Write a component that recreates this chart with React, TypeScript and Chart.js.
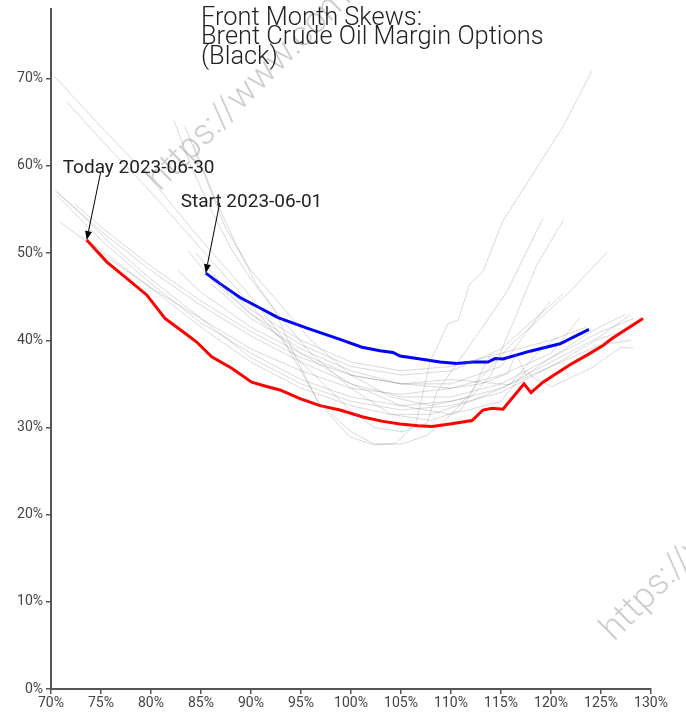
import React, { useEffect, useRef } from 'react';
import { Chart, registerables } from 'chart.js';

Chart.register(...registerables);

// ---------- data ----------
const titleLines = ['Front Month Skews:', 'Brent Crude Oil Margin Options', '(Black)'];
const xTickValues = [70, 75, 80, 85, 90, 95, 100, 105, 110, 115, 120, 125, 130];
const yTickValues = [0, 10, 20, 30, 40, 50, 60, 70];

const todayLabel = 'Today 2023-06-30';
const todayStrikes = [73.57, 75.57, 77.57, 79.57, 81.4, 83.4, 84.57, 86.07, 88.07, 90.07, 91.57, 92.9, 94.9, 96.9, 98.9, 101.2, 103.2, 104.9, 106.7, 108.1, 109.9, 112.1, 113.2, 114.1, 115.2, 117.3, 118.0, 119.2, 121.9, 123.6, 125.2, 126.1, 129.2];
const todayVols = [51.5, 49.0, 47.1, 45.2, 42.5, 40.8, 39.8, 38.1, 36.8, 35.2, 34.7, 34.3, 33.3, 32.5, 32.0, 31.2, 30.7, 30.4, 30.2, 30.1, 30.4, 30.8, 32.0, 32.2, 32.1, 35.0, 34.0, 35.2, 37.2, 38.3, 39.4, 40.2, 42.5];

const startLabel = 'Start 2023-06-01';
const startStrikes = [85.47, 86.9, 88.9, 90.9, 92.7, 95.6, 98.9, 101.1, 102.9, 104.2, 104.9, 106.6, 108.9, 110.6, 112.2, 113.7, 114.4, 115.2, 117.9, 120.9, 123.8];
const startVols = [47.7, 46.5, 44.9, 43.7, 42.6, 41.4, 40.1, 39.2, 38.8, 38.6, 38.2, 37.9, 37.5, 37.35, 37.5, 37.5, 37.9, 37.85, 38.75, 39.6, 41.25];

// intermediate days' skews: [strike %, vol %]
const historyCurves: number[][][] = [
  [[70.4, 70.2], [75, 64.5], [80, 58.5], [85, 51.5], [90, 45], [93, 40.5], [96.7, 33], [100, 29.5], [102.3, 28.1], [104.5, 28.2], [106.5, 30.5], [107.9, 37.5], [109.7, 41.9], [110.7, 42.3], [111.9, 46.5], [113.2, 47.9], [115.2, 53.7], [121.2, 64.5], [124.1, 70.9]],
  [[71.7, 67.2], [75, 63], [80, 57], [85, 50.5], [90, 44], [95, 37.5], [99.9, 32], [102.3, 30], [105.1, 29.5], [107.6, 30.5], [108.6, 34.1], [112.6, 40.6], [115.6, 45.6], [119.2, 54]],
  [[82.3, 65.2], [84, 60], [86, 55], [88, 50.5], [90, 47], [93, 42.5], [96, 38.5], [100, 34.5], [104, 31.5], [108, 30.8], [111, 32], [112.9, 35.6], [116, 39.5], [118.9, 42.5], [121.9, 45.6], [125.6, 50.1]],
  [[83.4, 64.5], [85, 60], [87.4, 53], [90, 48], [93, 44], [96, 40], [100, 36], [104, 33.5], [108, 32.5], [112, 33.5], [114, 36], [116.2, 42], [118.6, 48.7], [121.3, 53.9]],
  [[70.6, 57], [75, 52.5], [80, 48], [85, 44], [90, 40.5], [95, 37.5], [100, 35], [105, 33.5], [110, 33.5], [115, 35], [120, 38], [125, 41], [128.3, 42.5]],
  [[70.6, 56.6], [75, 51.5], [80, 46.5], [85, 42], [90, 38.5], [95, 35.5], [100, 33.5], [105, 32.5], [110, 33], [115, 34.5], [120, 37.5], [125, 40.5], [127.9, 42.9]],
  [[70.9, 53.6], [75, 50], [80, 46], [85, 42.5], [90, 39], [95, 36.5], [100, 34.5], [105, 33.8], [110, 34.5], [115, 36], [120, 38.5], [122.9, 42.6]],
  [[72.4, 55.6], [75, 53], [80, 48.5], [85, 44.5], [90, 41], [95, 38], [100, 36], [105, 35], [110, 35.5], [115.9, 34.9], [118.6, 38.5], [120.7, 40.4]],
  [[82.7, 48], [85, 45.5], [90, 41.5], [95, 38.5], [100, 36], [105, 35], [110, 35], [115, 37], [119.9, 44.5]],
  [[83.7, 50.3], [86, 47], [90, 43], [95, 39.5], [100, 37], [105, 36], [110, 36.5], [115, 39], [121.2, 45.3]],
  [[85.5, 48], [90, 43], [95, 38.5], [100, 35], [105, 32.5], [110, 31.5], [115, 33], [117.5, 36.5], [118.5, 35.5], [120.1, 34.7], [124, 36.8], [127, 39.2], [128.2, 39.1]],
  [[86, 46.5], [90, 42.5], [95, 39], [100, 36.5], [105, 35], [110, 34.5], [113, 35], [115.7, 36.2], [116.5, 38.5], [117.5, 36], [120, 38], [124, 41], [127.5, 43]],
  [[70.3, 57.3], [73, 54.5], [76, 51], [80, 47], [85, 42.5], [90, 38], [95, 35], [100, 33], [105, 32], [110, 32.5], [115, 34], [120, 37], [124.5, 40], [127, 41]],
  [[84.5, 50], [87, 46.5], [90, 43.5], [95, 40], [100, 37.5], [105, 36.5], [110, 37], [115, 38.5], [120, 40], [123.5, 41.5]],
  [[73, 52], [76, 49.5], [80, 46], [85, 41.5], [90, 37.5], [95, 34.5], [100, 32.5], [104, 31.5], [108, 31.5], [112, 33], [116, 35], [120, 37], [125, 39.5], [128, 40]],
  [[84.2, 62.5], [86.5, 56], [88.5, 51], [90.5, 46.5], [92.3, 43.6], [94.5, 38], [96.7, 32.9], [99.9, 28.9], [102.3, 28.0], [105.1, 28.1], [107.6, 29.1], [110, 31.5], [112, 34], [114, 38.5]],
];

const watermarkText = 'https://www.com';

// ---------- layout / style constants ----------
const CANVAS_W = 686;
const CANVAS_H = 719;
const AXIS_COLOR = '#555';
const TICK_LABEL_COLOR = '#444';

const decorPlugin = {
  id: 'decor',
  afterDraw(chart: any) {
    const ctx: CanvasRenderingContext2D = chart.ctx;
    const xs = chart.scales.x;
    const ys = chart.scales.y;
    ctx.save();

    // title
    ctx.fillStyle = '#222';
    ctx.font = '300 25.4px Roboto';
    ctx.textBaseline = 'alphabetic';
    ctx.textAlign = 'left';
    titleLines.forEach((line, i) => ctx.fillText(line, 201, 25 + i * 19.3));

    // annotations with arrows
    const anns = [
      { label: todayLabel, x: todayStrikes[0], y: todayVols[0], dx: 14, dy: -68, tx: -38, ty: 1 },
      { label: startLabel, x: startStrikes[0], y: startVols[0], dx: 14, dy: -70, tx: -39, ty: 4 },
    ];
    anns.forEach((a) => {
      const px = xs.getPixelForValue(a.x);
      const py = ys.getPixelForValue(a.y);
      const sx = px + a.dx;
      const sy = py + a.dy;
      ctx.strokeStyle = '#000';
      ctx.fillStyle = '#000';
      ctx.lineWidth = 1;
      const ang = Math.atan2(py - sy, px - sx);
      const hl = 9;
      const hw = 3.5;
      const bx = px - hl * Math.cos(ang);
      const by = py - hl * Math.sin(ang);
      ctx.beginPath();
      ctx.moveTo(sx, sy);
      ctx.lineTo(bx, by);
      ctx.stroke();
      ctx.beginPath();
      ctx.moveTo(px, py);
      ctx.lineTo(bx + hw * Math.sin(ang), by - hw * Math.cos(ang));
      ctx.lineTo(bx - hw * Math.sin(ang), by + hw * Math.cos(ang));
      ctx.closePath();
      ctx.fill();
      ctx.fillStyle = '#222';
      ctx.font = '19px Roboto';
      ctx.fillText(a.label, sx + a.tx, sy + a.ty);
    });

    // watermarks
    ctx.fillStyle = 'rgba(0,0,0,0.2)';
    ctx.font = '300 36px Roboto';
    [[160, 192], [614, 642]].forEach(([wx, wy]) => {
      ctx.save();
      ctx.translate(wx, wy);
      ctx.rotate(-Math.PI / 4);
      ctx.fillText(watermarkText, 0, 0);
      ctx.restore();
    });

    ctx.restore();
  },
};

export default function App() {
  const canvasRef = useRef<HTMLCanvasElement | null>(null);

  useEffect(() => {
    if (!canvasRef.current) return;
    Chart.defaults.font.family = 'Roboto';

    const greyDatasets = historyCurves.map((curve) => ({
      data: curve.map(([x, y]) => ({ x, y })),
      borderColor: 'rgba(128,128,128,0.3)',
      borderWidth: 1,
      pointRadius: 0,
      showLine: true,
      fill: false,
      tension: 0,
    }));

    const chart = new Chart(canvasRef.current, {
      type: 'scatter',
      data: {
        datasets: [
          ...greyDatasets,
          {
            label: todayLabel,
            data: todayStrikes.map((x, i) => ({ x, y: todayVols[i] })),
            borderColor: '#ff0000',
            borderWidth: 3,
            pointRadius: 0,
            showLine: true,
            fill: false,
          },
          {
            label: startLabel,
            data: startStrikes.map((x, i) => ({ x, y: startVols[i] })),
            borderColor: '#0000ff',
            borderWidth: 3,
            pointRadius: 0,
            showLine: true,
            fill: false,
          },
        ],
      },
      options: {
        animation: false,
        responsive: false,
        maintainAspectRatio: false,
        layout: { padding: { top: 9, right: 35, left: 0, bottom: 0 } },
        plugins: {
          legend: { display: false },
          tooltip: { enabled: false },
          title: { display: false },
        },
        scales: {
          x: {
            type: 'linear',
            min: 70,
            max: 130,
            afterBuildTicks: (scale: any) => {
              scale.ticks = xTickValues.map((v) => ({ value: v }));
            },
            afterFit: (scale: any) => {
              scale.height = 30;
              scale.paddingLeft = 0;
              scale.paddingRight = 0;
            },
            grid: { drawOnChartArea: false, drawTicks: true, tickLength: 5, color: AXIS_COLOR, lineWidth: 1.5 },
            border: { display: true, color: AXIS_COLOR, width: 2 },
            ticks: {
              color: TICK_LABEL_COLOR,
              font: { size: 14 },
              padding: 1,
              maxRotation: 0,
              autoSkip: false,
              callback: (v: any) => `${v}%`,
            },
          },
          y: {
            type: 'linear',
            min: 0,
            max: 78,
            afterBuildTicks: (scale: any) => {
              scale.ticks = yTickValues.map((v) => ({ value: v }));
            },
            afterFit: (scale: any) => {
              scale.width = 51;
              scale.paddingTop = 0;
              scale.paddingBottom = 0;
            },
            grid: { drawOnChartArea: false, drawTicks: true, tickLength: 5, color: AXIS_COLOR, lineWidth: 1.5 },
            border: { display: true, color: AXIS_COLOR, width: 2 },
            ticks: {
              color: TICK_LABEL_COLOR,
              font: { size: 14 },
              padding: 3,
              autoSkip: false,
              callback: (v: any) => `${v}%`,
            },
          },
        },
      },
      plugins: [decorPlugin],
    } as any);

    return () => chart.destroy();
  }, []);

  return (
    <div style={{ position: 'fixed', left: 0, top: 0, width: CANVAS_W, height: CANVAS_H, background: '#fff' }}>
      <canvas ref={canvasRef} width={CANVAS_W} height={CANVAS_H} style={{ display: 'block', width: CANVAS_W, height: CANVAS_H }} />
    </div>
  );
}
